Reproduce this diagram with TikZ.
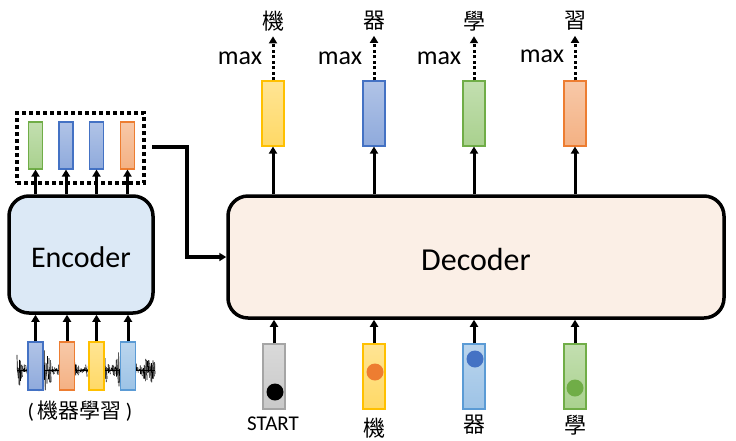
\documentclass[tikz,border=0pt]{standalone}
\usepackage{fontspec}
\setmainfont{Carlito}
\newfontfamily\cjk{Noto Sans CJK TC}
\usetikzlibrary{arrows.meta}
\definecolor{bluef}{HTML}{8FAADC}\definecolor{blued}{HTML}{4472C4}
\definecolor{orf}{HTML}{F4B183}\definecolor{ord}{HTML}{ED7D31}
\definecolor{yef}{HTML}{FFD966}\definecolor{yed}{HTML}{FFC000}
\definecolor{lbf}{HTML}{9DC3E6}\definecolor{lbd}{HTML}{5B9BD5}
\definecolor{grf}{HTML}{A9D18E}\definecolor{grd}{HTML}{70AD47}
\definecolor{gyf}{HTML}{C9C9C9}\definecolor{gyd}{HTML}{A5A5A5}
\definecolor{encf}{HTML}{DCE9F6}\definecolor{decf}{HTML}{FBEFE6}
\tikzset{
  bar/.style={draw=#1d, line width=1.1pt, inner sep=0pt, top color=#1f!70, bottom color=#1f},
  ebar/.style={bar=#1, minimum width=14, minimum height=47},
  ibar/.style={bar=#1, minimum width=15, minimum height=48},
  dbar/.style={bar=#1, minimum width=22, minimum height=65},
  block/.style={draw, line width=3.5pt, rounded corners=20pt, inner sep=0pt},
  arr/.style={line width=3pt, -{Triangle[length=7pt,width=8pt]}},
  darr/.style={line width=3pt, dash pattern=on 3pt off 2.5pt, -{Triangle[length=7pt,width=8pt]}},
  dot/.style={circle, inner sep=0pt, minimum size=17pt, fill=#1},
  lab/.style={inner sep=0pt}
}
\begin{document}
\begin{tikzpicture}[x=1pt,y=-1pt]
\useasboundingbox (0,0) rectangle (736,440);
% waveform
\pgfmathsetseed{7}
\foreach \x in {17,17.8,...,155}{
  \pgfmathsetmacro\env{2+21*abs(sin(\x*6.5))*(0.4+0.6*abs(sin(\x*2.3)))}
  \pgfmathsetmacro\ya{370-\env*rnd}
  \pgfmathsetmacro\yb{370+\env*rnd}
  \draw[line width=0.7pt] (\x,\ya) -- (\x+0.4,\yb);
}
\draw[line width=1pt] (17,370) -- (155,370);
% encoder
\node[block, fill=encf, minimum width=144, minimum height=117] (enc) at (81,254.5) {};
\node[lab, font=\fontsize{30}{34}\selectfont] (enct) at (81,257) {Encoder};
% encoder outputs
\node[ebar=gr] (e1) at (35.5,145.5) {};
\node[ebar=blue] (e2) at (66,145.5) {};
\node[ebar=blue] (e3) at (96.5,145.5) {};
\node[ebar=or] (e4) at (127.5,145.5) {};
\node[draw, line width=4pt, dash pattern=on 4pt off 3pt, minimum width=127, minimum height=70, inner sep=0pt] (dbox) at (80.5,148) {};
\foreach \i in {1,...,4}{\draw[arr] (enc.north -| e\i) -- (e\i.south);}
% encoder inputs
\node[ibar=blue] (i1) at (35.5,366) {};
\node[ibar=or] (i2) at (67,366) {};
\node[ibar=ye] (i3) at (96.5,366) {};
\node[ibar=lb] (i4) at (128,366) {};
\foreach \i in {1,...,4}{\draw[arr] (i\i.north) -- (enc.south -| i\i);}
\node[lab, font=\fontsize{21}{24}\selectfont] (inlab) at (80,411) {(\hspace{4pt}{\cjk 機器學習}\hspace{4pt})};
% decoder
\node[block, fill=decf, minimum width=496, minimum height=122] (dec) at (476,257) {};
\node[lab, font=\fontsize{32}{36}\selectfont] (dect) at (476,259) {Decoder};
\coordinate (cs) at (152,147);
\draw[arr, line width=3.5pt] (cs) -- (187,147) |- (dec.west);
% decoder outputs
\node[dbar=ye] (o1) at (273,113.5) {};
\node[dbar=blue] (o2) at (374,113.5) {};
\node[dbar=gr] (o3) at (474,113.5) {};
\node[dbar=or] (o4) at (575,113.5) {};
\foreach \i in {1,...,4}{\draw[arr] (dec.north -| o\i) -- (o\i.south);}
\node[lab, font=\cjk\fontsize{22}{24}\selectfont] (c1) at (273,21) {機};
\node[lab, font=\cjk\fontsize{22}{24}\selectfont] (c2) at (374,21) {器};
\node[lab, font=\cjk\fontsize{22}{24}\selectfont] (c3) at (474,21) {學};
\node[lab, font=\cjk\fontsize{22}{24}\selectfont] (c4) at (575,21) {習};
\foreach \i in {1,...,4}{\draw[darr] (o\i.north) -- ([yshift=-5pt]c\i.south);}
\node[lab, font=\fontsize{26}{30}\selectfont] (m1) at (240,58) {max};
\node[lab, font=\fontsize{26}{30}\selectfont] (m2) at (340,58) {max};
\node[lab, font=\fontsize{26}{30}\selectfont] (m3) at (439,58) {max};
\node[lab, font=\fontsize{26}{30}\selectfont] (m4) at (542,56) {max};
% decoder inputs
\node[dbar=gy] (d1) at (274,376.5) {};
\node[dbar=ye] (d2) at (374,376.5) {};
\node[dbar=lb] (d3) at (474,376.5) {};
\node[dbar=gr] (d4) at (575,376.5) {};
\foreach \i in {1,...,4}{\draw[arr] (d\i.north) -- (dec.south -| d\i);}
\node[dot=black] (p1) at (275,392) {};
\node[dot=ord] (p2) at (375,372) {};
\node[dot=blued] (p3) at (475,359) {};
\node[dot=grd] (p4) at (575,388) {};
\node[lab, font=\fontsize{21}{24}\selectfont] (l1) at (273,424) {START};
\node[lab, font=\cjk\fontsize{22}{24}\selectfont] (l2) at (374,428) {機};
\node[lab, font=\cjk\fontsize{22}{24}\selectfont] (l3) at (474,425) {器};
\node[lab, font=\cjk\fontsize{22}{24}\selectfont] (l4) at (575,425) {學};
\end{tikzpicture}
\end{document}
